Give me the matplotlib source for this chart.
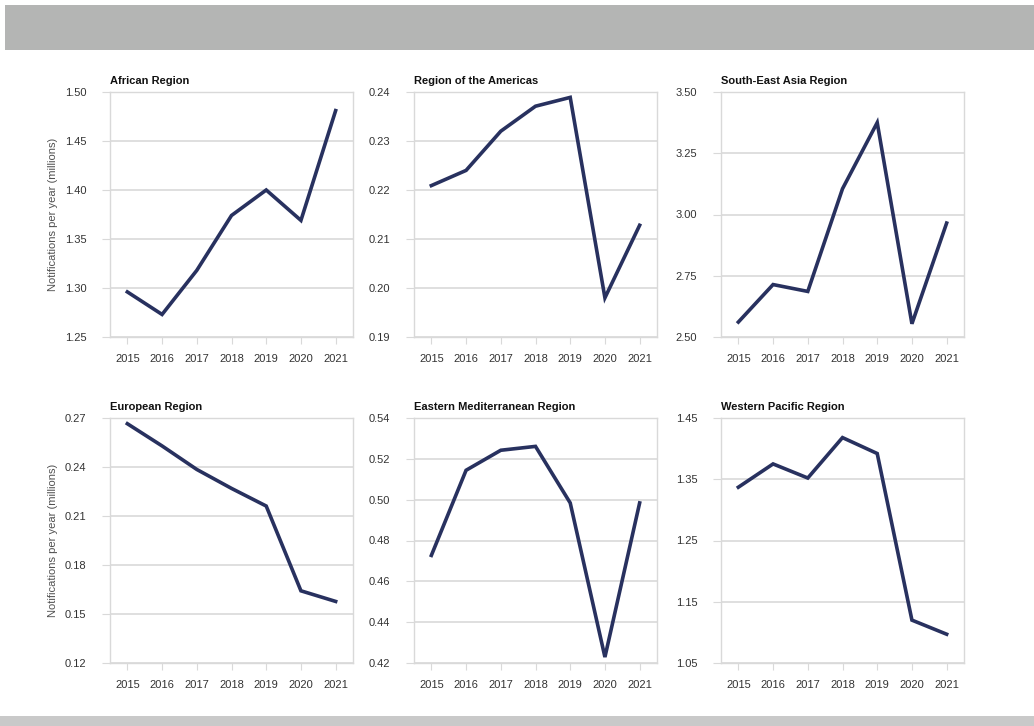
import matplotlib.pyplot as plt
from matplotlib.patches import Rectangle

plt.rcParams['font.family'] = ['Liberation Sans Narrow', 'Liberation Sans', 'DejaVu Sans']

years = [2015, 2016, 2017, 2018, 2019, 2020, 2021]

titles = ['African Region', 'Region of the Americas', 'South-East Asia Region',
          'European Region', 'Eastern Mediterranean Region', 'Western Pacific Region']

african = [1.296, 1.273, 1.318, 1.374, 1.400, 1.369, 1.481]
americas = [0.2209, 0.2240, 0.2320, 0.2371, 0.2389, 0.1980, 0.2128]
south_east_asia = [2.561, 2.714, 2.686, 3.105, 3.375, 2.554, 2.965]
european = [0.2665, 0.2529, 0.2385, 0.2269, 0.2161, 0.1642, 0.1577]
eastern_med = [0.4727, 0.5144, 0.5242, 0.5261, 0.4984, 0.4229, 0.4984]
western_pacific = [1.337, 1.375, 1.352, 1.418, 1.392, 1.120, 1.097]

y_ticks = [
    [1.25, 1.30, 1.35, 1.40, 1.45, 1.50],
    [0.19, 0.20, 0.21, 0.22, 0.23, 0.24],
    [2.50, 2.75, 3.00, 3.25, 3.50],
    [0.12, 0.15, 0.18, 0.21, 0.24, 0.27],
    [0.42, 0.44, 0.46, 0.48, 0.50, 0.52, 0.54],
    [1.05, 1.15, 1.25, 1.35, 1.45],
]

series = [african, americas, south_east_asia, european, eastern_med, western_pacific]

W, H = 1034, 726
fig = plt.figure(figsize=(W / 100, H / 100), dpi=100)
fig.patch.set_facecolor('white')

# grey header band and footer strip
fig.patches.append(Rectangle((5 / W, 1 - 50 / H), 1, 45 / H, transform=fig.transFigure,
                             facecolor='#b4b5b4', edgecolor='none', zorder=0))
fig.patches.append(Rectangle((0, 0), 1, 10 / H, transform=fig.transFigure,
                             facecolor='#c9c9c9', edgecolor='none', zorder=0))

lefts = [110, 414, 721]
tops = [92, 418]
aw, ah = 243, 245

line_color = '#28315f'
grid_color = '#d9d9d9'

for i, (vals, ticks, title) in enumerate(zip(series, y_ticks, titles)):
    r, c = divmod(i, 3)
    x0 = lefts[c]
    y0 = tops[r]
    ax = fig.add_axes([x0 / W, 1 - (y0 + ah) / H, aw / W, ah / H])
    ax.plot(years, vals, color=line_color, lw=2.6, solid_joinstyle='miter')
    ax.set_xlim(2014.5, 2021.5)
    ax.set_ylim(ticks[0], ticks[-1])
    ax.set_yticks(ticks)
    ax.set_yticklabels(['%.2f' % t for t in ticks])
    ax.set_xticks(years)
    ax.yaxis.grid(True, color=grid_color, lw=1.2)
    ax.set_axisbelow(True)
    for s in ax.spines.values():
        s.set_color(grid_color)
        s.set_linewidth(1.0)
    ax.tick_params(axis='y', length=6, color=grid_color, labelsize=8,
                   labelcolor='#333333', pad=11)
    ax.tick_params(axis='x', length=5, color=grid_color, labelsize=8,
                   labelcolor='#333333', pad=7)
    ax.set_title(title, loc='left', fontsize=8, fontweight='bold', color='#111111', pad=6)
    if c == 0:
        ax.set_ylabel('Notifications per year (millions)', fontsize=8, color='#505050', labelpad=5)

fig.savefig('out.png', dpi=100)
